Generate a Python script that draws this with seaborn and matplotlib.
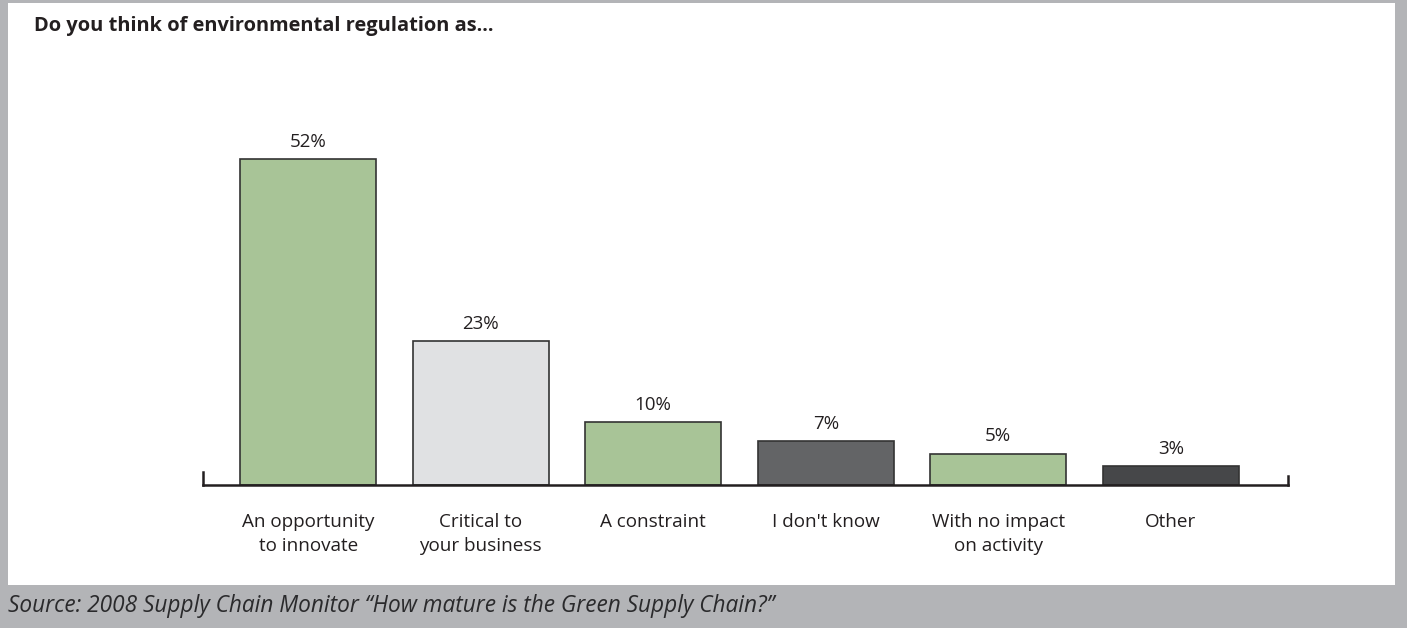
import matplotlib
matplotlib.use("Agg")
import matplotlib.pyplot as plt
import seaborn as sns
import pandas as pd
from matplotlib.patches import Rectangle

categories = ["An opportunity\nto innovate", "Critical to\nyour business", "A constraint",
              "I don't know", "With no impact\non activity", "Other"]
values = [52, 23, 10, 7, 5, 3]
labels = ["52%", "23%", "10%", "7%", "5%", "3%"]
colors = ["#a8c497", "#e0e1e3", "#a8c497", "#636466", "#a8c497", "#464749"]

title = "Do you think of environmental regulation as..."
source = "Source: 2008 Supply Chain Monitor \u201cHow mature is the Green Supply Chain?\u201d"

sns.set_theme(style="white")
plt.rcParams['font.family'] = ['Open Sans', 'DejaVu Sans']

W, H = 1407, 628
fig = plt.figure(figsize=(W / 100, H / 100), dpi=100)
fig.patch.set_facecolor("#b3b4b7")
# white panel
fig.patches.append(Rectangle((8 / W, 1 - 585 / H), (1395 - 8) / W, (585 - 3) / H,
                             transform=fig.transFigure, facecolor="white",
                             edgecolor="none", zorder=-5))

ax = fig.add_axes([203 / W, (H - 485) / H, 1085 / W, 345 / H])
ax.set_facecolor("none")

df = pd.DataFrame({"cat": categories, "val": values})
sns.barplot(data=df, x="cat", y="val", hue="cat", palette=colors, legend=False,
            width=0.79, edgecolor="#333333", linewidth=1.2, saturation=1, ax=ax)

for i, (v, lab) in enumerate(zip(values, labels)):
    ax.text(i, v + 1.3, lab, ha="center", va="bottom", fontsize=13.5, color="#231f20")

ax.set_xlim(-0.61, 5.68)
ax.set_ylim(0, 55)
ax.set_xlabel("")
ax.set_ylabel("")
ax.set_yticks([])
ax.tick_params(axis="x", length=0, pad=20, labelsize=13.6, labelcolor="#231f20")
for lbl in ax.get_xticklabels():
    lbl.set_linespacing(1.42)

ax.spines["top"].set_visible(False)
ax.spines["bottom"].set_color("#231f20")
ax.spines["bottom"].set_linewidth(1.8)
ax.spines["left"].set_color("#231f20")
ax.spines["left"].set_linewidth(1.8)
ax.spines["left"].set_bounds(0, 2.1)
ax.spines["right"].set_color("#231f20")
ax.spines["right"].set_linewidth(1.8)
ax.spines["right"].set_bounds(0, 1.4)

fig.text(34 / W, 1 - 26 / H, title, fontsize=14.45, fontweight="bold", color="#231f20",
         ha="left", va="center")
fig.text(8 / W, 1 - 606 / H, source, fontsize=16.3, style="italic", color="#2a2a2c",
         ha="left", va="center")

fig.savefig("out.png", dpi=100, facecolor=fig.get_facecolor())
